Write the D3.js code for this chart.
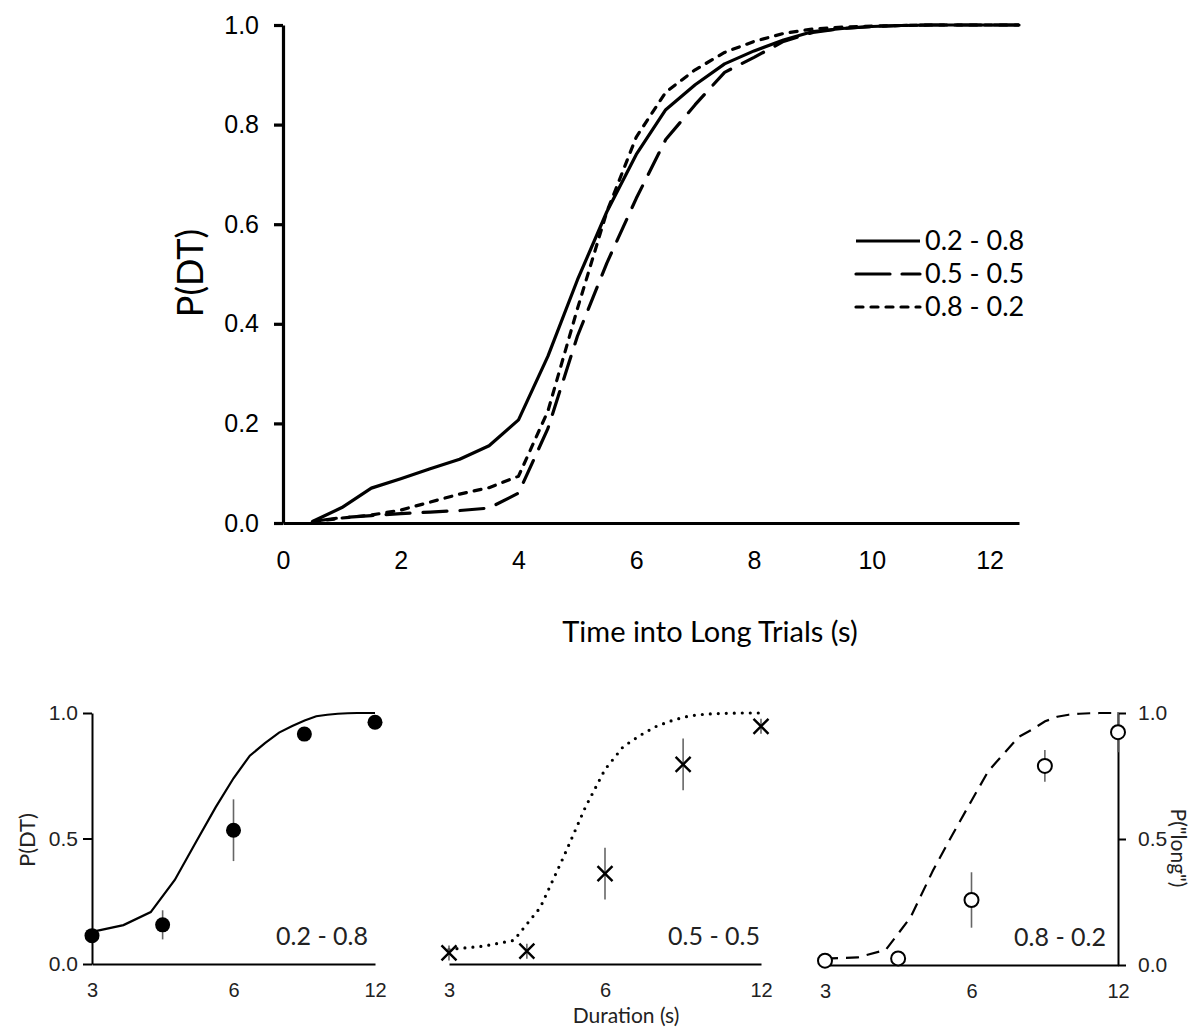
<!DOCTYPE html>
<html>
<head>
<meta charset="utf-8">
<script src="https://cdn.jsdelivr.net/npm/d3@7"></script>
<style>
  html, body { margin: 0; padding: 0; background: #fff; }
  svg { display: block; font-family: Lato, "Open Sans", sans-serif; }
</style>
</head>
<body>
<svg id="chart" width="1196" height="1028"></svg>
<script>
// ---------- data ----------
const timeS = [0.5,1,1.5,2,2.5,3,3.5,4,4.5,5,5.5,6,6.5,7,7.5,8,8.5,9,9.5,10,10.5,11,11.5,12,12.5];
const pdt_02_08 = [0.003,0.031,0.070,0.089,0.109,0.128,0.155,0.207,0.335,0.488,0.625,0.740,0.830,0.880,0.922,0.948,0.970,0.987,0.993,0.997,0.999,1,1,1,1];
const pdt_05_05 = [0.003,0.011,0.015,0.019,0.022,0.025,0.030,0.060,0.190,0.375,0.522,0.652,0.770,0.840,0.905,0.935,0.967,0.985,0.993,0.997,0.999,1,1,1,1];
const pdt_08_02 = [0.002,0.010,0.016,0.026,0.042,0.058,0.071,0.094,0.225,0.430,0.625,0.775,0.865,0.910,0.945,0.967,0.983,0.992,0.996,0.998,0.999,1,1,1,1];
const seriesNames = ["0.2 - 0.8", "0.5 - 0.5", "0.8 - 0.2"];
const mainYTicks = [0,0.2,0.4,0.6,0.8,1.0];
const mainXTicks = [0,2,4,6,8,10,12];

const durations = [3, 4.24, 6, 8.49, 12];
const durTicks = [3, 6, 12];
const panelYTicks = [0, 0.5, 1];
const pLong_02_08 = [0.113, 0.156, 0.533, 0.916, 0.963];
const err_02_08   = [0.02, 0.058, 0.123, 0.02, 0.02];
const pLong_05_05 = [0.044, 0.051, 0.360, 0.795, 0.947];
const err_05_05   = [0.03, 0.03, 0.103, 0.103, 0.03];
const pLong_08_02 = [0.017, 0.026, 0.258, 0.790, 0.924];
const err_08_02   = [0.01, 0.01, 0.110, 0.063, 0.08];

// ---------- main chart ----------
const svg = d3.select("#chart");
const x = d3.scaleLinear().domain([0, 12.5]).range([283, 1019]);
const y = d3.scaleLinear().domain([0, 1]).range([523, 25]);

const styles = [
  { dash: null, width: 3.2 },
  { dash: "24 13", width: 3.2 },
  { dash: "7 8", width: 3.2 }
];
const mainSeries = [pdt_02_08, pdt_05_05, pdt_08_02];

const gMain = svg.append("g");
const yAx = gMain.append("g").attr("transform", `translate(${x(0)},0)`)
  .call(d3.axisLeft(y).tickValues(mainYTicks).tickFormat(d3.format(".1f")).tickSize(9).tickSizeOuter(0).tickPadding(15));
const xAx = gMain.append("g").attr("transform", `translate(0,${y(0)})`)
  .call(d3.axisBottom(x).tickValues(mainXTicks).tickFormat(d3.format("d")).tickSize(0).tickSizeOuter(0).tickPadding(28));
[yAx, xAx].forEach(a => {
  a.selectAll("path,line").attr("stroke", "#000").attr("stroke-width", 3.2);
  a.selectAll("text").attr("fill", "#000").style("font-size", "25px");
});

const line = d3.line().x((d, i) => x(timeS[i])).y(d => y(d));
mainSeries.forEach((s, k) => {
  gMain.append("path").datum(s).attr("d", line)
    .attr("fill", "none").attr("stroke", "#000")
    .attr("stroke-width", styles[k].width)
    .attr("stroke-linecap", styles[k].dash ? "round" : "butt")
    .attr("stroke-linejoin", "round")
    .attr("stroke-dasharray", styles[k].dash);
});

// legend
const leg = gMain.append("g");
seriesNames.forEach((n, k) => {
  const ly = 241 + k * 33;
  leg.append("line").attr("x1", 856).attr("x2", 920).attr("y1", ly).attr("y2", ly)
    .attr("stroke", "#000").attr("stroke-width", 3.2)
    .attr("stroke-linecap", styles[k].dash ? "round" : "butt")
    .attr("stroke-dasharray", k === 1 ? "34 12" : styles[k].dash);
  leg.append("text").attr("x", 925).attr("y", ly).attr("dy", "0.35em")
    .style("font-size", "27px").text(n);
});

gMain.append("text").attr("x", 710).attr("y", 632).attr("dy", "0.35em")
  .attr("text-anchor", "middle").style("font-size", "29px").text("Time into Long Trials (s)");
gMain.append("text").attr("transform", "translate(190,273) rotate(-90)").attr("dy", "0.35em")
  .attr("text-anchor", "middle").style("font-size", "36px").text("P(DT)");

// ---------- bottom panels ----------
const panels = [
  { x0: 92, x1: 375, y0: 964, y1: 713, curve: pdt_02_08, dash: null, cw: 2.2, cap: "butt",
    pts: pLong_02_08, err: err_02_08, marker: "filled", label: seriesNames[0], labelX: 368, axis: "left" },
  { x0: 449, x1: 761, y0: 964, y1: 713, curve: pdt_08_02, dash: "0 8", cw: 3.2, cap: "round",
    pts: pLong_05_05, err: err_05_05, marker: "cross", label: seriesNames[1], labelX: 760, axis: "none" },
  { x0: 825, x1: 1118, y0: 965, y1: 713, curve: pdt_05_05, dash: "13 8", cw: 2.2, cap: "butt",
    pts: pLong_08_02, err: err_08_02, marker: "open", label: seriesNames[2], labelX: 1106, axis: "right" }
];

panels.forEach(p => {
  const g = svg.append("g");
  const px = d3.scaleLog().base(2).domain([3, 12]).range([p.x0, p.x1]);
  const py = d3.scaleLinear().domain([0, 1]).range([p.y0, p.y1]);

  if (p.axis === "left") {
    g.append("g").attr("transform", `translate(${p.x0},0)`)
      .call(d3.axisLeft(py).tickValues(panelYTicks).tickFormat(d3.format(".1f")).tickSize(9).tickSizeOuter(0).tickPadding(5));
  } else if (p.axis === "right") {
    g.append("g").attr("transform", `translate(${p.x1},0)`)
      .call(d3.axisRight(py).tickValues(panelYTicks).tickFormat(d3.format(".1f")).tickSize(8).tickSizeOuter(0).tickPadding(12));
  }
  g.append("g").attr("class", "xax").attr("transform", `translate(0,${p.y0})`)
    .call(d3.axisBottom(px).tickValues(durTicks).tickFormat(d3.format("d")).tickSize(0).tickSizeOuter(0).tickPadding(19));
  g.selectAll(".domain, .tick line").attr("stroke", "#000").attr("stroke-width", 2);
  g.selectAll(".tick text").attr("fill", "#222").style("font-size", "21px");
  g.selectAll(".xax .tick text").style("font-size", "20px");

  const idx = timeS.map((t, i) => i).filter(i => timeS[i] >= 3 && timeS[i] <= 12);
  const cl = d3.line().x(i => px(timeS[i])).y(i => py(p.curve[i]));
  g.append("path").datum(idx).attr("d", cl).attr("fill", "none").attr("stroke", "#000")
    .attr("stroke-width", p.cw).attr("stroke-linecap", p.cap).attr("stroke-dasharray", p.dash);

  // error bars
  g.selectAll(".eb").data(durations).enter().append("line")
    .attr("x1", d => px(d)).attr("x2", d => px(d))
    .attr("y1", (d, i) => py(p.pts[i] - p.err[i])).attr("y2", (d, i) => py(p.pts[i] + p.err[i]))
    .attr("stroke", "#666").attr("stroke-width", 1.6);

  if (p.marker === "filled" || p.marker === "open") {
    g.selectAll(".pt").data(durations).enter().append("circle")
      .attr("cx", d => px(d)).attr("cy", (d, i) => py(p.pts[i]))
      .attr("r", p.marker === "filled" ? 7.5 : 7)
      .attr("fill", p.marker === "filled" ? "#000" : "#fff")
      .attr("stroke", "#000").attr("stroke-width", p.marker === "filled" ? 0 : 2);
  } else {
    const s = 7.5;
    durations.forEach((d, i) => {
      const cx = px(d), cy = py(p.pts[i]);
      g.append("path").attr("d", `M${cx - s},${cy - s}L${cx + s},${cy + s}M${cx - s},${cy + s}L${cx + s},${cy - s}`)
        .attr("stroke", "#000").attr("stroke-width", 2.4).attr("fill", "none");
    });
  }

  g.append("text").attr("x", p.labelX).attr("y", p.y0 - 28).attr("dy", "0.35em")
    .attr("text-anchor", "end").attr("fill", "#222").style("font-size", "25px").text(p.label);
});

svg.append("text").attr("transform", "translate(27,840) rotate(-90)").attr("dy", "0.35em")
  .attr("text-anchor", "middle").attr("fill", "#222").style("font-size", "22px").text("P(DT)");
svg.append("text").attr("x", 626).attr("y", 1023)
  .attr("text-anchor", "middle").attr("fill", "#222").style("font-size", "21px").text("Duration (s)");
svg.append("text").attr("transform", "translate(1178,848) rotate(90)").attr("dy", "0.35em")
  .attr("text-anchor", "middle").attr("fill", "#222").style("font-size", "21px").text('P("long")');
</script>
</body>
</html>
